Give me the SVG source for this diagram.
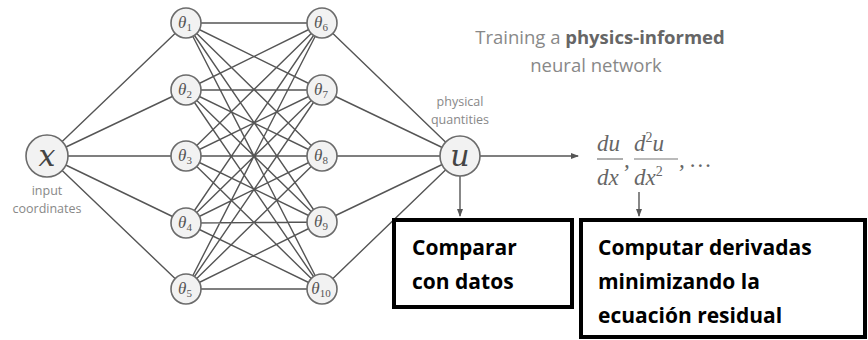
<svg xmlns="http://www.w3.org/2000/svg" width="868" height="340" viewBox="0 0 868 340">
<defs>
<style>
.c{fill:#f2f2f2;stroke:#6b6b6b;stroke-width:1.6}
.e{stroke:#555;stroke-width:1.4;fill:none}
.th{font-family:"Liberation Serif",serif;font-style:italic;font-size:17px;fill:#555;text-anchor:middle}
.sub{font-size:11px;font-style:normal}
.big{font-family:"DejaVu Serif",serif;font-style:italic;font-size:30px;fill:#444;text-anchor:middle}
.sm{font-family:"Open Sans","Liberation Sans",sans-serif;font-size:12.5px;fill:#888;text-anchor:middle}
.ttl{font-family:"Open Sans","Liberation Sans",sans-serif;font-size:18.5px;fill:#888;text-anchor:middle}
.m{font-family:"Liberation Serif",serif;font-style:italic;font-size:23px;fill:#666}
.bx{fill:#fff;stroke:#000;stroke-width:4}
.bt{font-family:"Open Sans","Liberation Sans",sans-serif;font-weight:bold;font-size:21px;fill:#000}
</style>
<marker id="ah" markerWidth="8" markerHeight="6" refX="7" refY="3" orient="auto" markerUnits="userSpaceOnUse">
<path d="M0,0 L8,3 L0,6 z" fill="#555"/>
</marker>
</defs>
<rect width="868" height="340" fill="#fff"/>
<g id="connectors">
<path class="e" d="M47,156L186,23M47,156L186,90M47,156L186,156M47,156L186,223M47,156L186,289"/>
<path class="e" d="M186,23L322,23M186,23L322,90M186,23L322,156M186,23L322,222M186,23L322,289
M186,90L322,23M186,90L322,90M186,90L322,156M186,90L322,222M186,90L322,289
M186,156L322,23M186,156L322,90M186,156L322,156M186,156L322,222M186,156L322,289
M186,223L322,23M186,223L322,90M186,223L322,156M186,223L322,222M186,223L322,289
M186,289L322,23M186,289L322,90M186,289L322,156M186,289L322,222M186,289L322,289"/>
<path class="e" d="M322,23L460,156M322,90L460,156M322,156L460,156M322,222L460,156M322,289L460,156"/>
<path class="e" d="M480,156L578,156" marker-end="url(#ah)"/>
<path class="e" d="M460,176L460,216" marker-end="url(#ah)"/>
<path class="e" d="M639,192L639,216" marker-end="url(#ah)"/>
</g>
<g id="node-x"><circle class="c" cx="47" cy="156" r="21"/><text class="big" x="47" y="166">x</text>
<text class="sm" x="47" y="195">input</text><text class="sm" x="47" y="213">coordinates</text></g>
<g id="node-t1"><circle class="c" cx="186" cy="23" r="15"/><text class="th" x="185" y="28">θ<tspan class="sub" dy="3">1</tspan></text></g>
<g id="node-t2"><circle class="c" cx="186" cy="90" r="15"/><text class="th" x="185" y="95">θ<tspan class="sub" dy="3">2</tspan></text></g>
<g id="node-t3"><circle class="c" cx="186" cy="156" r="15"/><text class="th" x="185" y="161">θ<tspan class="sub" dy="3">3</tspan></text></g>
<g id="node-t4"><circle class="c" cx="186" cy="223" r="15"/><text class="th" x="185" y="228">θ<tspan class="sub" dy="3">4</tspan></text></g>
<g id="node-t5"><circle class="c" cx="186" cy="289" r="15"/><text class="th" x="185" y="294">θ<tspan class="sub" dy="3">5</tspan></text></g>
<g id="node-t6"><circle class="c" cx="322" cy="23" r="15"/><text class="th" x="321" y="28">θ<tspan class="sub" dy="3">6</tspan></text></g>
<g id="node-t7"><circle class="c" cx="322" cy="90" r="15"/><text class="th" x="321" y="95">θ<tspan class="sub" dy="3">7</tspan></text></g>
<g id="node-t8"><circle class="c" cx="322" cy="156" r="15"/><text class="th" x="321" y="161">θ<tspan class="sub" dy="3">8</tspan></text></g>
<g id="node-t9"><circle class="c" cx="322" cy="222" r="15"/><text class="th" x="321" y="227">θ<tspan class="sub" dy="3">9</tspan></text></g>
<g id="node-t10"><circle class="c" cx="322" cy="289" r="15"/><text class="th" x="321" y="294">θ<tspan class="sub" dy="3">10</tspan></text></g>
<g id="node-u"><circle class="c" cx="460" cy="156" r="20"/><text class="big" x="460" y="166">u</text>
<text class="sm" x="460" y="106">physical</text><text class="sm" x="460" y="124">quantities</text></g>
<g id="title"><text class="ttl" x="600" y="44">Training a <tspan font-weight="bold" fill="#666">physics-informed</tspan></text>
<text class="ttl" x="596" y="72">neural network</text></g>
<g id="derivs">
<text class="m" x="597" y="151">du</text>
<line x1="597" y1="159" x2="623" y2="159" stroke="#777" stroke-width="1.2"/>
<text class="m" x="597" y="185">dx</text>
<text class="m" x="624" y="167">,</text>
<text class="m" x="634" y="151">d<tspan font-size="14" font-style="normal" dy="-9">2</tspan><tspan dy="9">u</tspan></text>
<line x1="634" y1="159" x2="678" y2="159" stroke="#777" stroke-width="1.2"/>
<text class="m" x="634" y="185">dx<tspan font-size="14" font-style="normal" dy="-9">2</tspan></text>
<text class="m" x="679" y="167">, …</text>
</g>
<g id="box-comparar"><rect class="bx" x="394" y="220" width="178" height="87"/>
<text class="bt" x="412" y="255">Comparar</text><text class="bt" x="412" y="289">con datos</text></g>
<g id="box-computar"><rect class="bx" x="581" y="220" width="284" height="117"/>
<text class="bt" x="598" y="255">Computar derivadas</text><text class="bt" x="598" y="289">minimizando la</text><text class="bt" x="598" y="323">ecuación residual</text></g>
</svg>
